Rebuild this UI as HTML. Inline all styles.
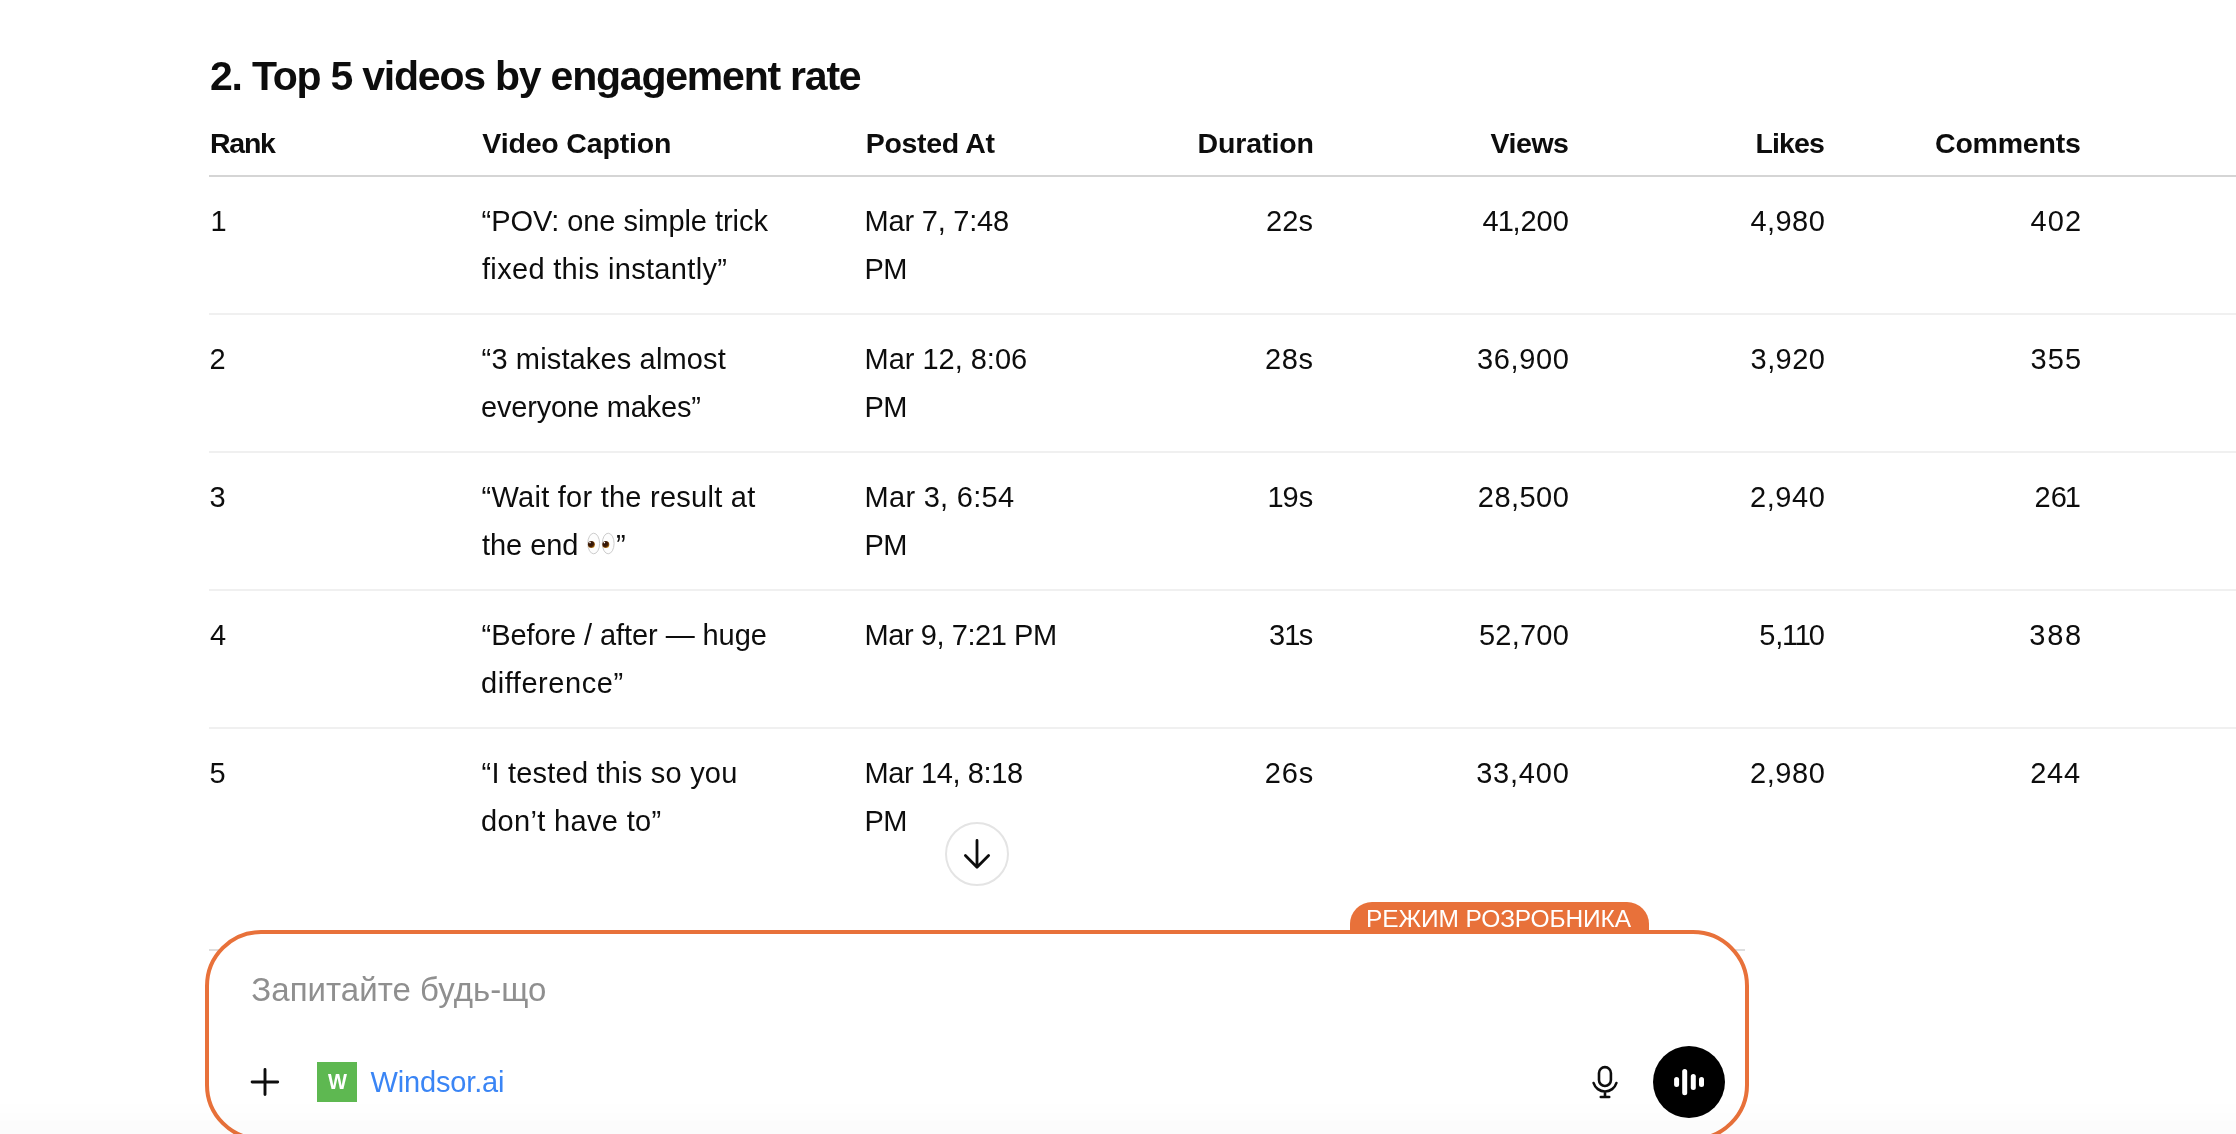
<!DOCTYPE html>
<html lang="en">
<head>
<meta charset="utf-8">
<title>Top 5 videos by engagement rate</title>
<style>
html,body{margin:0;padding:0;background:#fff;}
html{width:2236px;height:1134px;overflow:hidden;}
#page{position:relative;width:2236px;height:1134px;overflow:hidden;background:#fff;}
body{width:2236px;height:1134px;overflow:hidden;font-family:"Liberation Sans",sans-serif;color:#0d0d0d;}
.t{position:absolute;white-space:nowrap;margin:0;}
#tx{position:absolute;left:0;top:0;width:2236px;height:1134px;z-index:3;will-change:transform;}
.ln{position:absolute;left:209px;width:2027px;height:2px;background:#f0f0f0;z-index:1;}
.hr{position:absolute;left:209px;width:1536px;top:949px;height:2px;background:#dedede;z-index:1;}
.composer{position:absolute;left:205px;top:930px;width:1536px;height:203px;border:4px solid #e8713a;border-radius:56px;background:#fff;z-index:2;}
.tab{position:absolute;left:1350px;top:902px;width:299px;height:30px;background:#e8713a;border-radius:22px 22px 0 0;z-index:2;}
.fade{position:absolute;left:0;top:1100px;width:2236px;height:34px;background:linear-gradient(to bottom,rgba(0,0,0,0),rgba(0,0,0,0.014));z-index:4;pointer-events:none;}
.wsq{position:absolute;left:317px;top:1062px;width:40px;height:40px;background:#5eb851;z-index:2;}
.voice{position:absolute;left:1653px;top:1046px;width:72px;height:72px;border-radius:50%;background:#000;z-index:3;}
.scroll{position:absolute;left:945px;top:822px;width:60px;height:60px;border:2px solid #e4e4e4;border-radius:50%;background:#fff;z-index:3;}
svg{position:absolute;z-index:5;overflow:visible;}
</style>
</head>
<body>
<div id="page">
<div class="ln" style="top:175px;background:#d5d5d5"></div>
<div class="ln" style="top:313px"></div>
<div class="ln" style="top:451px"></div>
<div class="ln" style="top:589px"></div>
<div class="ln" style="top:727px"></div>
<div class="hr"></div>
<div id="tx">
<div class="t" style="left:210.00px;top:53px;font-size:41px;line-height:46px;font-weight:700;letter-spacing:-1.220px;">2. Top 5 videos by engagement rate</div>
<div class="t" style="left:210.10px;top:127px;font-size:28.5px;line-height:32px;font-weight:700;letter-spacing:-1.314px;">Rank</div>
<div class="t" style="left:482.30px;top:127px;font-size:28.5px;line-height:32px;font-weight:700;letter-spacing:-0.163px;">Video Caption</div>
<div class="t" style="left:865.80px;top:127px;font-size:28.5px;line-height:32px;font-weight:700;letter-spacing:-0.340px;">Posted At</div>
<div class="t" style="left:1197.50px;top:127px;font-size:28.5px;line-height:32px;font-weight:700;letter-spacing:-0.093px;">Duration</div>
<div class="t" style="left:1490.60px;top:127px;font-size:28.5px;line-height:32px;font-weight:700;letter-spacing:-0.483px;">Views</div>
<div class="t" style="left:1755.50px;top:127px;font-size:28.5px;line-height:32px;font-weight:700;letter-spacing:-0.882px;">Likes</div>
<div class="t" style="left:1935.00px;top:127px;font-size:28.5px;line-height:32px;font-weight:700;letter-spacing:-0.203px;">Comments</div>
<div class="t" style="left:210.50px;top:197px;font-size:29px;line-height:48px;">1</div>
<div class="t" style="left:481.60px;top:197px;font-size:29px;line-height:48px;letter-spacing:-0.052px;">“POV: one simple trick</div>
<div class="t" style="left:864.60px;top:197px;font-size:29px;line-height:48px;letter-spacing:-0.216px;">Mar 7, 7:48</div>
<div class="t" style="left:1265.90px;top:197px;font-size:29px;line-height:48px;letter-spacing:0.222px;">22s</div>
<div class="t" style="left:1482.50px;top:197px;font-size:29px;line-height:48px;"><span style="letter-spacing:-0.948px">4</span><span style="letter-spacing:-1.422px">1</span>,200</div>
<div class="t" style="left:1750.40px;top:197px;font-size:29px;line-height:48px;letter-spacing:0.464px;">4,980</div>
<div class="t" style="left:2030.60px;top:197px;font-size:29px;line-height:48px;letter-spacing:1.072px;">402</div>
<div class="t" style="left:482.00px;top:245px;font-size:29px;line-height:48px;letter-spacing:0.316px;">fixed this instantly”</div>
<div class="t" style="left:864.60px;top:245px;font-size:29px;line-height:48px;letter-spacing:-0.743px;">PM</div>
<div class="t" style="left:209.50px;top:335px;font-size:29px;line-height:48px;">2</div>
<div class="t" style="left:481.60px;top:335px;font-size:29px;line-height:48px;letter-spacing:0.143px;">“3 mistakes almost</div>
<div class="t" style="left:864.60px;top:335px;font-size:29px;line-height:48px;letter-spacing:-0.026px;">Mar 12, 8:06</div>
<div class="t" style="left:1264.90px;top:335px;font-size:29px;line-height:48px;letter-spacing:0.722px;">28s</div>
<div class="t" style="left:1477.00px;top:335px;font-size:29px;line-height:48px;letter-spacing:0.626px;">36,900</div>
<div class="t" style="left:1750.60px;top:335px;font-size:29px;line-height:48px;letter-spacing:0.414px;">3,920</div>
<div class="t" style="left:2030.40px;top:335px;font-size:29px;line-height:48px;letter-spacing:1.172px;">355</div>
<div class="t" style="left:481.00px;top:383px;font-size:29px;line-height:48px;letter-spacing:-0.184px;">everyone makes”</div>
<div class="t" style="left:864.60px;top:383px;font-size:29px;line-height:48px;letter-spacing:-0.743px;">PM</div>
<div class="t" style="left:209.50px;top:473px;font-size:29px;line-height:48px;">3</div>
<div class="t" style="left:481.60px;top:473px;font-size:29px;line-height:48px;letter-spacing:0.254px;">“Wait for the result at</div>
<div class="t" style="left:864.60px;top:473px;font-size:29px;line-height:48px;letter-spacing:0.274px;">Mar 3, 6:54</div>
<div class="t" style="left:1267.50px;top:473px;font-size:29px;line-height:48px;"><span style="letter-spacing:-1.057px">1</span>9s</div>
<div class="t" style="left:1477.80px;top:473px;font-size:29px;line-height:48px;letter-spacing:0.466px;">28,500</div>
<div class="t" style="left:1750.00px;top:473px;font-size:29px;line-height:48px;letter-spacing:0.589px;">2,940</div>
<div class="t" style="left:2034.60px;top:473px;font-size:29px;line-height:48px;">2<span style="letter-spacing:-2.157px">6</span>1</div>
<div class="t" style="left:482.00px;top:521px;font-size:29px;line-height:48px;letter-spacing:-0.055px;">the end</div>
<div class="t" style="left:616.00px;top:521px;font-size:29px;line-height:48px;">”</div>
<div class="t" style="left:864.60px;top:521px;font-size:29px;line-height:48px;letter-spacing:-0.743px;">PM</div>
<div class="t" style="left:210.00px;top:611px;font-size:29px;line-height:48px;">4</div>
<div class="t" style="left:481.60px;top:611px;font-size:29px;line-height:48px;letter-spacing:-0.081px;">“Before / after — huge</div>
<div class="t" style="left:864.60px;top:611px;font-size:29px;line-height:48px;letter-spacing:-0.445px;">Mar 9, 7:21 PM</div>
<div class="t" style="left:1269.10px;top:611px;font-size:29px;line-height:48px;"><span style="letter-spacing:-1.063px">3</span><span style="letter-spacing:-1.594px">1</span>s</div>
<div class="t" style="left:1479.00px;top:611px;font-size:29px;line-height:48px;letter-spacing:0.226px;">52,700</div>
<div class="t" style="left:1759.20px;top:611px;font-size:29px;line-height:48px;">5<span style="letter-spacing:-1.378px">,</span><span style="letter-spacing:-3.445px">1</span><span style="letter-spacing:-2.067px">1</span>0</div>
<div class="t" style="left:2029.30px;top:611px;font-size:29px;line-height:48px;letter-spacing:1.722px;">388</div>
<div class="t" style="left:481.00px;top:659px;font-size:29px;line-height:48px;letter-spacing:0.557px;">difference”</div>
<div class="t" style="left:209.50px;top:749px;font-size:29px;line-height:48px;">5</div>
<div class="t" style="left:481.60px;top:749px;font-size:29px;line-height:48px;letter-spacing:0.214px;">“I tested this so you</div>
<div class="t" style="left:864.60px;top:749px;font-size:29px;line-height:48px;letter-spacing:-0.399px;">Mar 14, 8:18</div>
<div class="t" style="left:1264.80px;top:749px;font-size:29px;line-height:48px;letter-spacing:0.822px;">26s</div>
<div class="t" style="left:1476.20px;top:749px;font-size:29px;line-height:48px;letter-spacing:0.786px;">33,400</div>
<div class="t" style="left:1750.00px;top:749px;font-size:29px;line-height:48px;letter-spacing:0.589px;">2,980</div>
<div class="t" style="left:2030.20px;top:749px;font-size:29px;line-height:48px;letter-spacing:0.772px;">244</div>
<div class="t" style="left:481.00px;top:797px;font-size:29px;line-height:48px;letter-spacing:0.341px;">don’t have to”</div>
<div class="t" style="left:864.60px;top:797px;font-size:29px;line-height:48px;letter-spacing:-0.743px;">PM</div>
<div class="t" style="left:251.30px;top:966px;font-size:33px;line-height:48px;letter-spacing:0.032px;color:#8f8f8f;">Запитайте будь-що</div>
<div class="t" style="left:370.50px;top:1058px;font-size:29px;line-height:48px;letter-spacing:-0.160px;color:#3a85f5;">Windsor.ai</div>
<div class="t" style="left:1365.90px;top:903px;font-size:24.5px;line-height:32px;letter-spacing:-0.093px;color:#ffffff;">РЕЖИМ РОЗРОБНИКА</div>
<div class="t" style="left:327.70px;top:1066px;font-size:21.5px;line-height:32px;font-weight:700;color:#ffffff;transform-origin:0 50%;transform:scaleX(0.935);">W</div>
</div>

<!-- eyes emoji -->
<svg style="left:584px;top:530px" width="34" height="28" viewBox="584 530 34 28">
<defs><radialGradient id="ir" cx="0.42" cy="0.4" r="0.62"><stop offset="0" stop-color="#2a1004"/><stop offset="0.62" stop-color="#3f1c06"/><stop offset="0.85" stop-color="#8a4f0c"/><stop offset="1" stop-color="#c98a1a"/></radialGradient></defs>
<ellipse cx="593.7" cy="543.5" rx="5.9" ry="10.3" fill="#fdfdfd" stroke="#c6c6c6" stroke-width="0.9"/>
<ellipse cx="608.2" cy="543.5" rx="5.9" ry="10.3" fill="#fdfdfd" stroke="#c6c6c6" stroke-width="0.9"/>
<circle cx="591.4" cy="544.5" r="3.5" fill="url(#ir)"/><circle cx="605.8" cy="544.5" r="3.5" fill="url(#ir)"/>
<circle cx="590" cy="542.6" r="0.8" fill="#fff"/><circle cx="604.4" cy="542.6" r="0.8" fill="#fff"/>
</svg>

<!-- scroll-to-bottom button -->
<div class="scroll"></div>
<svg style="left:945px;top:822px" width="64" height="64" viewBox="945 822 64 64" fill="none" stroke="#0d0d0d" stroke-width="2.8" stroke-linecap="round" stroke-linejoin="round">
<path d="M977 840.4V867M965.4 855.6L977 867.2L988.6 855.6"/>
</svg>

<!-- composer -->
<div class="tab"></div>
<div class="composer"></div>
<div class="wsq"></div>
<svg style="left:245px;top:1062px" width="40" height="40" viewBox="245 1062 40 40" fill="none" stroke="#0d0d0d" stroke-width="2.9" stroke-linecap="round">
<path d="M252.1 1082H277.7M265 1069.4V1094.6"/>
</svg>
<svg style="left:1585px;top:1060px" width="40" height="44" viewBox="1585 1060 40 44" fill="none" stroke="#0d0d0d" stroke-width="2.6" stroke-linecap="round" stroke-linejoin="round">
<rect x="1599" y="1067.1" width="11.9" height="18.9" rx="5.95"/>
<path d="M1593.6 1083A11.9 11.9 0 0 0 1616.4 1083M1605 1091.8V1097M1600.8 1097H1609.2"/>
</svg>
<div class="voice"></div>
<svg style="left:1653px;top:1046px" width="72" height="72" viewBox="1653 1046 72 72" fill="#fff">
<rect x="1674.1" y="1076.9" width="5" height="10.2" rx="2.5"/>
<rect x="1682.2" y="1068.9" width="5" height="26.3" rx="2.5"/>
<rect x="1690.8" y="1073.9" width="5" height="16.2" rx="2.5"/>
<rect x="1699" y="1076.9" width="5" height="10.2" rx="2.5"/>
</svg>
<div class="fade"></div>
</div>
</body>
</html>
